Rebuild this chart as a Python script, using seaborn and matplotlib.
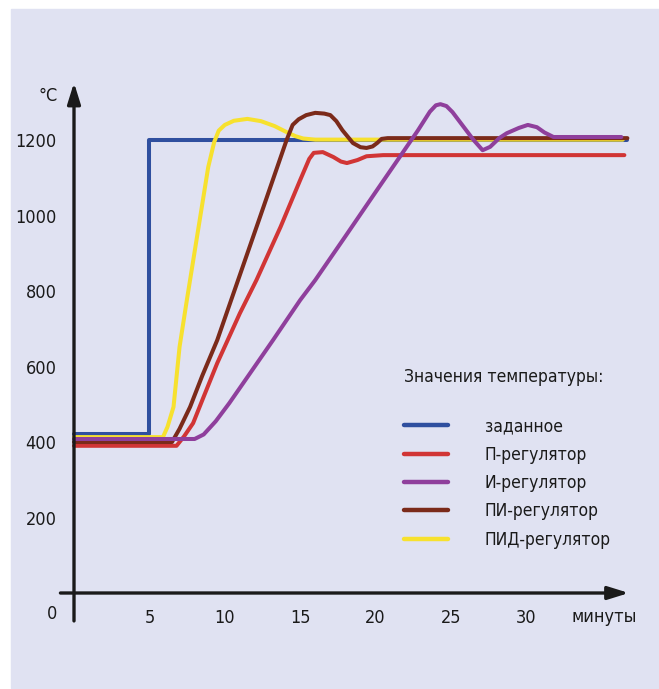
import numpy as np
import pandas as pd
import matplotlib
matplotlib.use("Agg")
import matplotlib.pyplot as plt
from matplotlib import font_manager
from matplotlib.patches import Rectangle
import seaborn as sns

# time (minutes) / temperature (°C)
t_set = [0, 5, 5, 36.7]
T_set = [422, 422, 1200, 1200]

t_p = [0, 6.8, 7.3, 7.9, 8.6, 9.5, 11.0, 12.1, 13.7, 15.0, 15.6, 15.9, 16.5,
       17.2, 17.7, 18.1, 18.8, 19.4, 20.5, 36.5]
T_p = [390, 390, 415, 450, 520, 609, 741, 829, 970, 1094, 1150, 1166, 1168,
       1155, 1143, 1139, 1147, 1157, 1160, 1160]

t_i = [0, 8.0, 8.6, 9.4, 10.3, 11.5, 13.2, 15.0, 16.0, 18.0, 20.0, 21.6, 22.8,
       23.6, 24.0, 24.3, 24.7, 25.1, 25.8, 26.5, 27.1, 27.6, 28.2, 28.7, 29.5,
       30.1, 30.7, 31.2, 31.8, 36.3]
T_i = [408, 408, 420, 455, 503, 572, 670, 776, 829, 945, 1062, 1155, 1225,
       1275, 1292, 1295, 1290, 1274, 1237, 1200, 1173, 1182, 1205, 1218, 1232,
       1240, 1234, 1220, 1208, 1208]

t_pi = [0, 6.5, 7.0, 7.7, 8.5, 9.5, 10.3, 10.9, 12.3, 13.2, 14.1, 14.5, 14.9,
        15.4, 16.0, 16.6, 17.0, 17.4, 17.8, 18.5, 19.0, 19.4, 19.8, 20.1, 20.4,
        20.8, 36.7]
T_pi = [400, 400, 435, 493, 575, 670, 762, 831, 992, 1096, 1200, 1240, 1255,
        1266, 1272, 1270, 1266, 1250, 1226, 1192, 1181, 1179, 1183, 1192, 1203,
        1205, 1205]

t_pid = [0, 5.9, 6.2, 6.6, 7.0, 7.5, 8.2, 8.9, 9.3, 9.6, 10.0, 10.6, 11.5, 12.4,
         13.3, 14.1, 14.7, 15.2, 16.0, 36.4]
T_pid = [413, 413, 440, 493, 652, 780, 954, 1128, 1195, 1225, 1240, 1251, 1256,
         1250, 1237, 1221, 1210, 1204, 1201, 1201]

labels = ["заданное", "П-регулятор", "И-регулятор", "ПИ-регулятор", "ПИД-регулятор"]
colors = ["#2f4f9f", "#d13535", "#8f3f9c", "#7b2a1a", "#f7e12e"]
series = [(t_set, T_set), (t_p, T_p), (t_i, T_i), (t_pi, T_pi), (t_pid, T_pid)]

x_ticks = [5, 10, 15, 20, 25, 30]
y_ticks = [200, 400, 600, 800, 1000, 1200]

sns.set_theme(style="white")

# want a narrow sans like the original; take what is installed
fonts = font_manager.fontManager.ttflist
names = {f.name for f in fonts}
fs = 14
if "Liberation Sans Narrow" in names:
    plt.rcParams["font.family"] = ["Liberation Sans Narrow", "DejaVu Sans"]
elif any(f.name == "DejaVu Sans" and str(f.stretch) in ("condensed", "semi-condensed")
         for f in fonts):
    plt.rcParams["font.family"] = ["DejaVu Sans"]
    plt.rcParams["font.stretch"] = "condensed"
    fs = 13
else:
    plt.rcParams["font.family"] = ["Liberation Sans", "DejaVu Sans"]
    fs = 13.5

fig = plt.figure(figsize=(6.59, 6.89), dpi=100)
fig.patches.append(Rectangle((11 / 659, 1 / 689), 1 - 11 / 659, 679 / 689,
                             transform=fig.transFigure, color="#e0e2f2", zorder=-10))
ax = fig.add_axes([40 / 659, 49 / 689, 610 / 659, 580 / 689])
ax.set_facecolor("none")
ax.set_xlim(-2.255, 38.2)
ax.set_ylim(-124.5, 1412)

# draw order: blue, red, yellow, brown, purple
handles = {}
for idx in [0, 1, 4, 3, 2]:
    t, T = series[idx]
    df = pd.DataFrame({"t": t, "T": T})
    sns.lineplot(data=df, x="t", y="T", estimator=None, sort=False,
                 color=colors[idx], lw=2.9, ax=ax, label=labels[idx])
    handles[idx] = ax.lines[-1]

for s in ax.spines.values():
    s.set_visible(False)
ax.spines["left"].set_position(("data", 0))
ax.spines["bottom"].set_position(("data", 0))

arrow = dict(arrowstyle="-|>,head_length=0.45,head_width=0.14", lw=2.4,
             color="#1a1a1a", mutation_scale=28, shrinkA=0, shrinkB=0)
ax.annotate("", xy=(36.8, 0), xytext=(-0.9, 0), arrowprops=arrow)
ax.annotate("", xy=(0, 1352), xytext=(0, -74), arrowprops=arrow)

ax.set_xticks(x_ticks)
ax.set_yticks(y_ticks)
ax.tick_params(axis="both", direction="inout", length=15, width=1.6,
               color="#1a1a1a", labelsize=fs, labelcolor="#1a1a1a")
ax.tick_params(axis="y", pad=5)
ax.tick_params(axis="x", pad=4)
ax.set_xlabel("")
ax.set_ylabel("")

ax.text(-1.45, -56, "0", fontsize=fs, color="#1a1a1a", ha="center", va="center")
ax.text(-1.05, 1317, "°C", fontsize=fs, color="#1a1a1a", ha="right", va="center")
ax.text(33.0, -64, "минуты", fontsize=fs, color="#1a1a1a", ha="left", va="center")

lfs = fs - 0.5
leg = ax.legend([handles[i] for i in range(5)], labels,
                title="Значения температуры:\n", loc="upper left",
                bbox_to_anchor=(364 / 610, (629 - 357) / 580),
                frameon=False, fontsize=lfs, title_fontsize=lfs,
                handlelength=2.55, handletextpad=2.1, labelspacing=0.6,
                borderaxespad=0, borderpad=0, alignment="left")
for h in leg.legend_handles:
    h.set_linewidth(3.2)
for txt in leg.get_texts():
    txt.set_color("#1a1a1a")
leg.get_title().set_color("#1a1a1a")

fig.savefig("out.png", dpi=100)
